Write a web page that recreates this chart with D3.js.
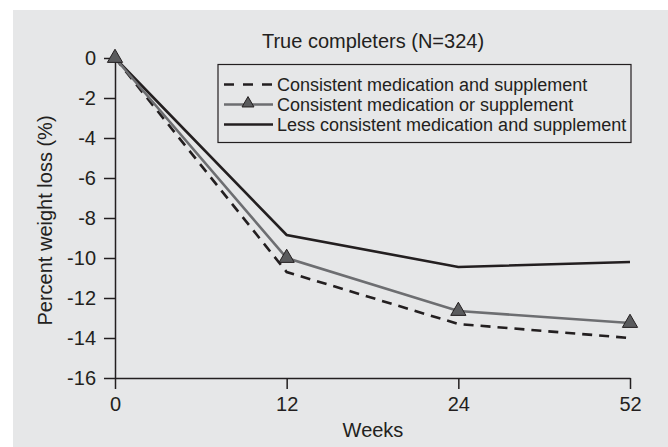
<!DOCTYPE html>
<html>
<head>
<meta charset="utf-8">
<script src="https://cdn.jsdelivr.net/npm/d3@7"></script>
<style>
  html, body { margin: 0; padding: 0; background: #ffffff; }
  svg { display: block; }
  text { font-family: "Liberation Sans", Arial, Helvetica, sans-serif; fill: #231f20; }
</style>
</head>
<body>
<svg id="chart" width="668" height="447"></svg>
<script>
// ---- data ----
const weeks = ["0", "12", "24", "52"];
const seriesNames = [
  "Consistent medication and supplement",
  "Consistent medication or supplement",
  "Less consistent medication and supplement"
];
const consistentAnd = [0, -10.7, -13.3, -14.0];
const consistentOr = [0, -10.0, -12.65, -13.25];
const lessConsistent = [0, -8.85, -10.45, -10.2];
const yTicks = [0, -2, -4, -6, -8, -10, -12, -14, -16];
const titleText = "True completers (N=324)";
const xTitle = "Weeks";
const yTitle = "Percent weight loss (%)";

// ---- setup ----
const svg = d3.select("#chart");
const ink = "#231f20";
const grayLine = "#6d6e71";
const triFill = "#5a5b5d";

svg.append("rect").attr("x", 13).attr("y", 10).attr("width", 655).attr("height", 437)
  .attr("fill", "#e6e7e8");

const x = d3.scalePoint().domain(weeks).range([115, 630]).padding(0);
const y = d3.scaleLinear().domain([-16, 0]).range([378, 58]);

// axes
const xAxis = svg.append("g").attr("transform", "translate(0,378)")
  .call(d3.axisBottom(x).tickSize(11).tickSizeOuter(0).tickPadding(8));
const yAxis = svg.append("g").attr("transform", "translate(115,0)")
  .call(d3.axisLeft(y).tickValues(yTicks).tickSize(11).tickSizeOuter(0).tickPadding(8)
    .tickFormat(d => d3.format("d")(d).replace("−", "-")));
[xAxis, yAxis].forEach(g => {
  g.selectAll("path, line").attr("stroke", ink).attr("stroke-width", 1.5);
  g.selectAll("text").attr("font-size", 20).attr("fill", ink)
    .style("font-family", '"Liberation Sans", Arial, Helvetica, sans-serif');
});

// titles
svg.append("text").attr("x", 373).attr("y", 48).attr("text-anchor", "middle")
  .attr("font-size", 20).text(titleText);
svg.append("text").attr("x", 373).attr("y", 437).attr("text-anchor", "middle")
  .attr("font-size", 20).text(xTitle);
svg.append("text").attr("transform", "translate(51.5,220.5) rotate(-90)")
  .attr("text-anchor", "middle").attr("font-size", 20).text(yTitle);

// lines
const line = d3.line().x((d, i) => x(weeks[i])).y(d => y(d));
svg.append("path").datum(lessConsistent).attr("d", line)
  .attr("fill", "none").attr("stroke", ink).attr("stroke-width", 2.6);
svg.append("path").datum(consistentAnd).attr("d", line)
  .attr("fill", "none").attr("stroke", ink).attr("stroke-width", 2.6)
  .attr("stroke-dasharray", "10,7");
svg.append("path").datum(consistentOr).attr("d", line)
  .attr("fill", "none").attr("stroke", grayLine).attr("stroke-width", 2.6);

const tri = d3.symbol().type(d3.symbolTriangle);
svg.selectAll("path.tri").data(consistentOr).join("path").attr("class", "tri")
  .attr("d", tri.size(100)())
  .attr("transform", (d, i) => `translate(${x(weeks[i])},${y(d)})`)
  .attr("fill", triFill).attr("stroke", ink).attr("stroke-width", 1);

// legend
const lg = svg.append("g");
lg.append("rect").attr("x", 218).attr("y", 64.5).attr("width", 413).attr("height", 78)
  .attr("fill", "none").attr("stroke", ink).attr("stroke-width", 1.2);
const rowY = [84.5, 104.5, 124.5];
lg.append("line").attr("x1", 224).attr("x2", 273).attr("y1", rowY[0]).attr("y2", rowY[0])
  .attr("stroke", ink).attr("stroke-width", 2.6).attr("stroke-dasharray", "10,9");
lg.append("line").attr("x1", 224).attr("x2", 273).attr("y1", rowY[1]).attr("y2", rowY[1])
  .attr("stroke", grayLine).attr("stroke-width", 2.6);
lg.append("path").attr("d", tri.size(62)())
  .attr("transform", `translate(248,${rowY[1] - 1})`)
  .attr("fill", triFill).attr("stroke", ink).attr("stroke-width", 1);
lg.append("line").attr("x1", 224).attr("x2", 273).attr("y1", rowY[2]).attr("y2", rowY[2])
  .attr("stroke", ink).attr("stroke-width", 2.6);
lg.selectAll("text.lt").data(seriesNames).join("text").attr("class", "lt")
  .attr("x", 277).attr("y", (d, i) => rowY[i] + 6).attr("font-size", 18).text(d => d);
</script>
</body>
</html>
